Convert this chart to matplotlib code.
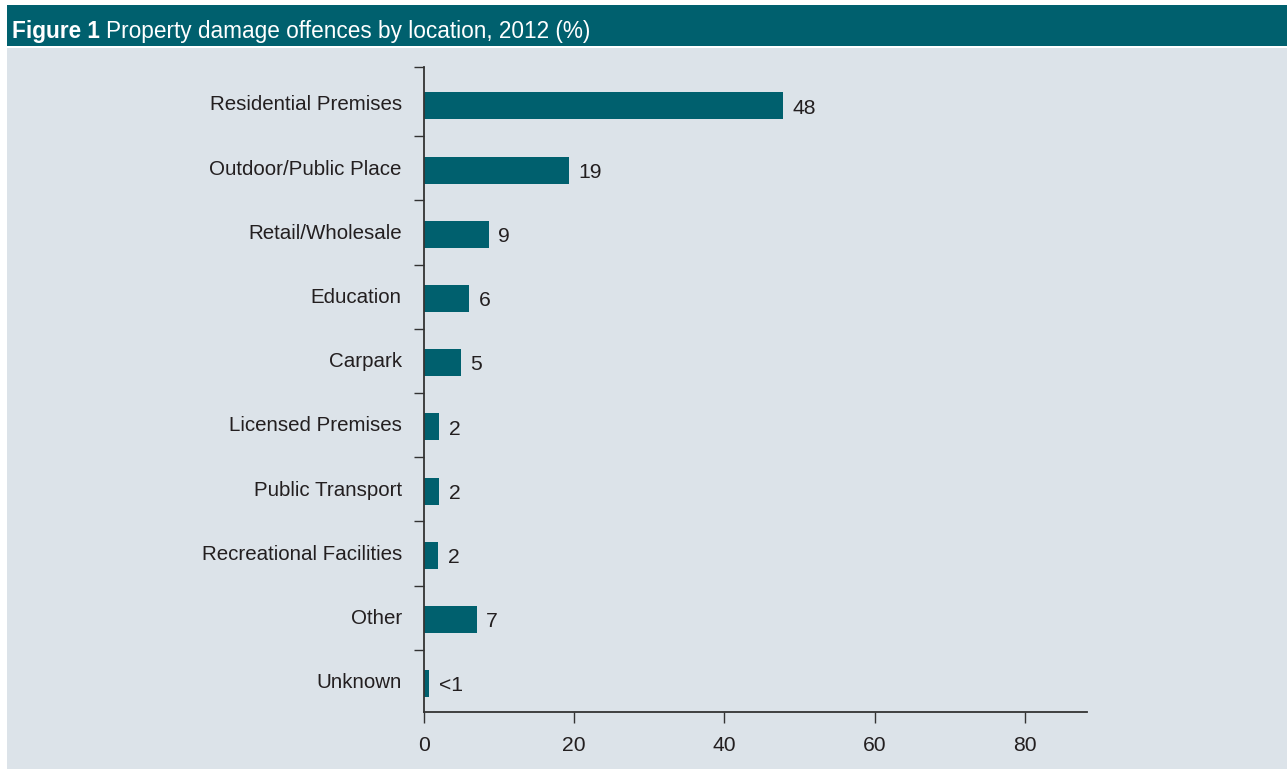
import matplotlib
matplotlib.use("Agg")
import matplotlib.pyplot as plt
from matplotlib.patches import Rectangle
import matplotlib.transforms as mtransforms
from matplotlib import font_manager

categories = ["Residential Premises", "Outdoor/Public Place", "Retail/Wholesale",
              "Education", "Carpark", "Licensed Premises", "Public Transport",
              "Recreational Facilities", "Other", "Unknown"]
values = [47.8, 19.3, 8.6, 6.0, 4.9, 2.0, 2.0, 1.9, 7.0, 0.7]
value_labels = ["48", "19", "9", "6", "5", "2", "2", "2", "7", "<1"]
xticks = [0, 20, 40, 60, 80]

TEAL = "#00606e"
BG = "#dce3e9"
TXT = "#231f20"
names = {f.name for f in font_manager.fontManager.ttflist}
narrow = "Liberation Sans Narrow" in names
FONT = ["Liberation Sans Narrow", "Liberation Sans", "DejaVu Sans"] if narrow else ["Liberation Sans", "DejaVu Sans"]
plt.rcParams["font.family"] = FONT
k = 1.0 if narrow else 0.92

W, H = 1287, 769
fig = plt.figure(figsize=(W / 100, H / 100), dpi=100, facecolor="white")

# panel background and header
fig.patches.append(Rectangle((7 / W, 0), 1 - 7 / W, 1 - 48 / H, transform=fig.transFigure,
                             facecolor=BG, edgecolor="none", zorder=-5))
fig.patches.append(Rectangle((7 / W, 1 - 46 / H), 1 - 7 / W, 41 / H, transform=fig.transFigure,
                             facecolor=TEAL, edgecolor="none", zorder=-5))
tfs = 17 * (1.0 if narrow else 0.96)
t1 = fig.text(12 / W, 1 - 38 / H, "Figure 1", color="white", fontsize=tfs,
              fontweight="bold", va="baseline", ha="left")
fig.canvas.draw()
bb = t1.get_window_extent()
fig.text(bb.x1 / W + 6 / W, 1 - 38 / H, "Property damage offences by location, 2012 (%)",
         color="white", fontsize=tfs, va="baseline", ha="left")

# axes: x from 424 to 1087, y from 67 to 712
ax = fig.add_axes([424 / W, 1 - 712 / H, (1087 - 424) / W, (712 - 67) / H])
ax.set_facecolor("none")
n = len(categories)
pos = list(range(n))
ax.barh(pos, values, height=0.42, color=TEAL, zorder=2)
ytop, ybot = -0.607, 9.44
ax.set_ylim(ybot, ytop)
ax.set_xlim(0, 88.3)

vfs = 16 * (1.0 if narrow else 0.95)
for p, v, lab in zip(pos, values, value_labels):
    ax.annotate(lab, (v, p), xytext=(7, -1.5), textcoords="offset points",
                ha="left", va="center", fontsize=vfs, color=TXT)

ax.set_yticks([ytop] + [p + 0.47 for p in pos[:-1]])
ax.set_yticklabels([])
ax.set_yticks(pos, minor=True)
ax.set_yticklabels(categories, minor=True, fontsize=16 * k, color=TXT)
ax.tick_params(axis="y", which="major", length=7, width=1, color="#333333", direction="out")
ax.tick_params(axis="y", which="minor", length=0, pad=16)
offset = mtransforms.ScaledTranslation(0, 3 / 100, fig.dpi_scale_trans)
for lbl in ax.get_yticklabels(minor=True):
    lbl.set_transform(lbl.get_transform() + offset)

ax.set_xticks(xticks)
ax.set_xticklabels([str(x) for x in xticks], fontsize=vfs, color=TXT)
ax.tick_params(axis="x", length=8, width=1, color="#333333", direction="out", pad=9)

for s in ["top", "right"]:
    ax.spines[s].set_visible(False)
for s in ["left", "bottom"]:
    ax.spines[s].set_color("#333333")
    ax.spines[s].set_linewidth(1.3)

fig.savefig("out.png", dpi=100, facecolor="white")
